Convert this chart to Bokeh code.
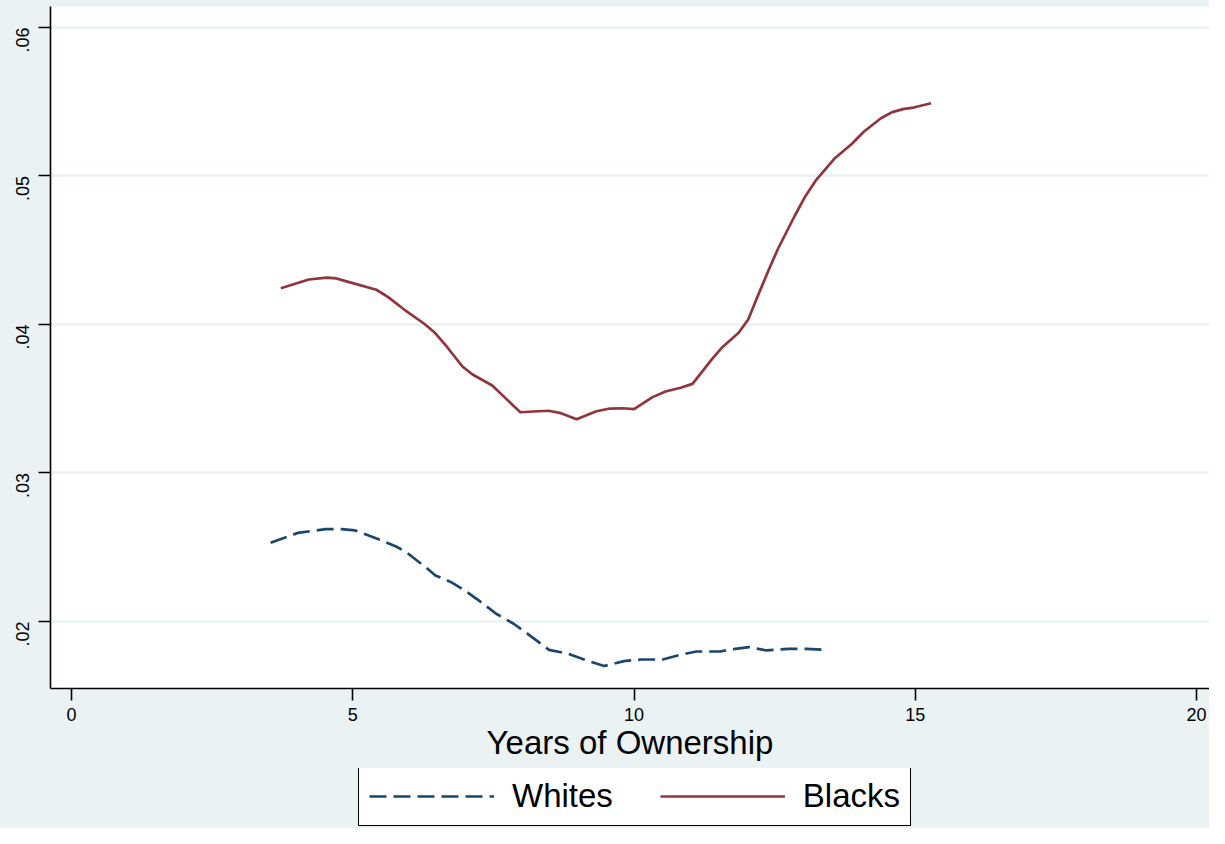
import math
from bokeh.plotting import figure
from bokeh.layouts import column
from bokeh.models import Range1d, Legend, LegendItem, FixedTicker, ColumnDataSource
from bokeh.embed import file_html
from bokeh.resources import INLINE

# ---- data ----
whites_years = [3.54, 4.03, 4.52, 4.80, 5.04, 5.49, 5.77, 5.95, 6.33, 6.47, 6.75, 6.99,
                7.20, 7.55, 7.86, 8.11, 8.49, 8.84, 9.16, 9.47, 9.82, 10.13, 10.51,
                10.83, 11.11, 11.53, 11.80, 12.05, 12.36, 12.75, 13.06, 13.41]
whites_rate = [0.02530, 0.02597, 0.02622, 0.02622, 0.02613, 0.02550, 0.02505, 0.02467,
               0.02355, 0.02310, 0.02265, 0.02209, 0.02153, 0.02052, 0.01985, 0.01917,
               0.01809, 0.01782, 0.01737, 0.01700, 0.01733, 0.01744, 0.01744, 0.01776,
               0.01798, 0.01798, 0.01816, 0.01827, 0.01805, 0.01816, 0.01816, 0.01809]

blacks_years = [3.72, 4.22, 4.54, 4.71, 4.92, 5.42, 5.63, 5.92, 6.27, 6.45, 6.68, 6.95,
                7.13, 7.48, 7.71, 7.98, 8.21, 8.48, 8.68, 8.98, 9.33, 9.57, 9.80, 10.00,
                10.33, 10.56, 10.83, 11.04, 11.39, 11.56, 11.86, 12.03, 12.21, 12.39,
                12.56, 12.86, 13.03, 13.24, 13.56, 13.86, 14.09, 14.39, 14.59, 14.80,
                14.97, 15.28]
blacks_rate = [0.04244, 0.04303, 0.04316, 0.04310, 0.04287, 0.04234, 0.04184, 0.04099,
               0.04005, 0.03948, 0.03847, 0.03717, 0.03663, 0.03589, 0.03506, 0.03409,
               0.03414, 0.03419, 0.03405, 0.03362, 0.03416, 0.03434, 0.03436, 0.03430,
               0.03511, 0.03549, 0.03574, 0.03600, 0.03769, 0.03843, 0.03944, 0.04034,
               0.04200, 0.04364, 0.04510, 0.04734, 0.04853, 0.04974, 0.05116, 0.05212,
               0.05300, 0.05389, 0.05430, 0.05452, 0.05461, 0.05490]

x_ticks = [0, 5, 10, 15, 20]
y_ticks = [0.02, 0.03, 0.04, 0.05, 0.06]
y_tick_labels = {0.02: ".02", 0.03: ".03", 0.04: ".04", 0.05: ".05", 0.06: ".06"}

series_names = ["Whites", "Blacks"]

# ---- styling ----
BG = "#EAF2F3"
NAVY = "#1A476F"
MAROON = "#90353B"
FONT = "Liberation Sans"
LW = 2.7
DASH = "17 7"

p = figure(width=1209, height=768, output_backend="svg", toolbar_location=None,
           x_range=Range1d(-0.3733, 20.231), y_range=Range1d(0.015488, 0.061414),
           min_border_left=50, min_border_right=0, min_border_top=6, min_border_bottom=80)

p.background_fill_color = "white"
p.border_fill_color = BG
p.outline_line_color = None

# grid
p.xgrid.grid_line_color = None
p.ygrid.grid_line_color = BG
p.ygrid.grid_line_width = 2.5
p.ygrid.ticker = FixedTicker(ticks=y_ticks)

# axes
for ax in (p.xaxis[0], p.yaxis[0]):
    ax.axis_line_color = "black"
    ax.axis_line_width = 1.6
    ax.major_tick_line_color = "black"
    ax.major_tick_line_width = 1.6
    ax.major_tick_out = 12
    ax.major_tick_in = 0
    ax.minor_tick_line_color = None
    ax.major_label_text_font = FONT
    ax.major_label_text_font_size = "18px"
    ax.major_label_text_color = "black"

p.xaxis.ticker = FixedTicker(ticks=x_ticks)
p.xaxis.major_label_standoff = 7
p.xaxis.axis_label = "Years of Ownership"
p.xaxis.axis_label_text_font = FONT
p.xaxis.axis_label_text_font_size = "33px"
p.xaxis.axis_label_text_font_style = "normal"
p.xaxis.axis_label_text_color = "black"
p.xaxis.axis_label_standoff = 0

p.yaxis.ticker = FixedTicker(ticks=y_ticks)
p.yaxis.major_label_overrides = y_tick_labels
p.yaxis.major_label_orientation = math.pi / 2
p.yaxis.major_label_standoff = 16

src_w = ColumnDataSource(dict(x=whites_years, y=whites_rate))
src_b = ColumnDataSource(dict(x=blacks_years, y=blacks_rate))

p.line("x", "y", source=src_w, line_color=NAVY, line_width=LW,
       line_dash=DASH, line_join="round")
p.line("x", "y", source=src_b, line_color=MAROON, line_width=LW,
       line_join="round")

# ---- legend strip below the chart ----
lg = figure(width=1209, height=60, output_backend="svg", toolbar_location=None,
            x_range=Range1d(0, 1), y_range=Range1d(0, 1),
            min_border_left=50, min_border_right=0, min_border_top=0, min_border_bottom=0)
lg.background_fill_color = BG
lg.border_fill_color = BG
lg.outline_line_color = None
lg.xaxis.visible = False
lg.yaxis.visible = False
lg.xgrid.visible = False
lg.ygrid.visible = False

nan = float("nan")
key_w = ColumnDataSource(dict(x=[nan], y=[nan]))
key_b = ColumnDataSource(dict(x=[nan], y=[nan]))
lw_r = lg.line("x", "y", source=key_w, line_color=NAVY, line_width=LW, line_dash=DASH)
lb_r = lg.line("x", "y", source=key_b, line_color=MAROON, line_width=LW)

legend = Legend(items=[LegendItem(label=series_names[0], renderers=[lw_r]),
                       LegendItem(label=series_names[1], renderers=[lb_r])],
                orientation="horizontal", location=(308, 2))
legend.label_text_font = FONT
legend.label_text_font_size = "33px"
legend.label_text_color = "black"
legend.glyph_width = 125
legend.glyph_height = 30
legend.label_standoff = 18
legend.spacing = 47
legend.padding = 10
legend.margin = 0
legend.border_line_color = "black"
legend.border_line_alpha = 1.0
legend.border_line_width = 1.5
legend.background_fill_color = "white"
legend.background_fill_alpha = 1.0
lg.add_layout(legend, "center")

layout = column(p, lg, spacing=0, styles={"background-color": BG})

open("out.html", "w").write(file_html(layout, INLINE))
